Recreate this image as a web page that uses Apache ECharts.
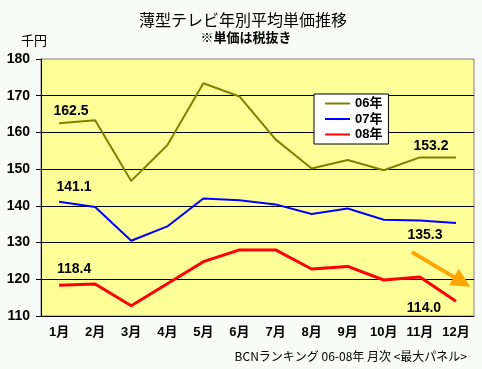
<!DOCTYPE html>
<html><head><meta charset="utf-8">
<script src="https://cdn.jsdelivr.net/npm/echarts@6/dist/echarts.min.js"></script>
<style>html,body{margin:0;padding:0;background:#f9fbf8;}#c{width:482px;height:369px;}</style>
</head><body><div id="c"></div>
<script>
var months = ['1月','2月','3月','4月','5月','6月','7月','8月','9月','10月','11月','12月'];
var s06 = [162.5,163.3,146.8,156.5,173.4,169.8,158.1,150.2,152.5,149.7,153.2,153.2];
var s07 = [141.1,139.7,130.5,134.4,142.0,141.5,140.4,137.8,139.3,136.2,136.0,135.3];
var s08 = [118.4,118.7,112.8,118.8,124.8,128.0,128.0,122.8,123.5,119.8,120.6,114.0];
var yTicks = [110,120,130,140,150,160,170,180];
var arrowFrom = [10.28, 127.4];
var arrowTo = [11.67, 119.3];

var labelFont = {fontFamily:'Liberation Sans, Arial, sans-serif', fontWeight:'bold', fontSize:14, color:'#000'};
function withLabels(arr, marks){
  return arr.map(function(v,i){
    if(marks[i]){
      return {value:v, label:Object.assign({show:true, position:'inside', offset:marks[i],
        formatter:function(p){return p.value.toFixed(1);}}, labelFont)};
    }
    return v;
  });
}
var chart = echarts.init(document.getElementById('c'), null, {renderer:'canvas'});
chart.setOption({
  backgroundColor:'#f9fbf8',
  animation:false,
  title:[
    {text:'薄型テレビ年別平均単価推移', left:243, top:12, textAlign:'center', padding:0,
      textStyle:{fontFamily:'Noto Sans CJK JP', fontWeight:'normal', fontSize:16, color:'#000'}},
    {text:'※単価は税抜き', left:246, top:31, textAlign:'center', padding:0,
      textStyle:{fontFamily:'Noto Sans CJK JP', fontWeight:'bold', fontSize:13, color:'#000'}},
    {text:'千円', left:21, top:34, padding:0,
      textStyle:{fontFamily:'Noto Sans CJK JP', fontWeight:'normal', fontSize:13, color:'#000'}},
    {text:'BCNランキング 06-08年 月次 <最大パネル>', left:467, top:350, textAlign:'right', padding:0,
      textStyle:{fontFamily:'Noto Sans CJK JP', fontWeight:'normal', fontSize:12, color:'#000'}}
  ],
  grid:{left:41, top:59, right:8, bottom:53, show:true, backgroundColor:'#ffff99', borderColor:'#808080', borderWidth:1},
  legend:{
    data:['06年','07年','08年'], orient:'vertical', left:314, top:94,
    backgroundColor:'#fff', borderColor:'#000', borderWidth:1, borderRadius:0,
    padding:[3,6,3,10], itemWidth:25, itemHeight:12, itemGap:2.5,
    itemStyle:{opacity:0},
    textStyle:{fontFamily:'Liberation Sans, Noto Sans CJK JP', fontWeight:'bold', fontSize:13, color:'#000'}
  },
  xAxis:[{
    type:'category', data:months, boundaryGap:true,
    axisLine:{lineStyle:{color:'#000', width:1}},
    axisTick:{inside:true, length:4, lineStyle:{color:'#000'}},
    axisLabel:{margin:10, color:'#000', fontFamily:'Liberation Sans, Noto Sans CJK JP', fontWeight:'bold', fontSize:13, interval:0}
  },{
    type:'value', min:0, max:12, show:false
  }],
  yAxis:{
    type:'value', min:yTicks[0], max:yTicks[yTicks.length-1], interval:10,
    axisLine:{show:true, lineStyle:{color:'#000', width:1}},
    axisTick:{show:true, length:5, lineStyle:{color:'#000'}},
    splitLine:{show:true, showMaxLine:false, lineStyle:{color:'#000', width:1}},
    axisLabel:{margin:11, color:'#000', fontFamily:'Liberation Sans, Arial, sans-serif', fontWeight:'bold', fontSize:14}
  },
  series:[
    {name:'06年', type:'line', data:withLabels(s06,{0:[12,-12],11:[-25,-11]}), symbol:'circle', symbolSize:0.1, lineStyle:{color:'#808000', width:2}, itemStyle:{color:'#808000'}},
    {name:'07年', type:'line', data:withLabels(s07,{0:[15,-15],11:[-31,12]}), symbol:'circle', symbolSize:0.1, lineStyle:{color:'#0000ff', width:2}, itemStyle:{color:'#0000ff'}},
    {name:'08年', type:'line', data:withLabels(s08,{0:[15,-16],11:[-32,7]}), symbol:'circle', symbolSize:0.1, lineStyle:{color:'#ff0000', width:3}, itemStyle:{color:'#ff0000'}},
    {name:'arrow', type:'lines', coordinateSystem:'cartesian2d', xAxisIndex:1, yAxisIndex:0,
      data:[{coords:[arrowFrom, arrowTo]}], symbol:['none','triangle'], symbolSize:19,
      lineStyle:{color:'#ffa500', width:4, opacity:1}, silent:true, z:5}
  ]
});
</script></body></html>
